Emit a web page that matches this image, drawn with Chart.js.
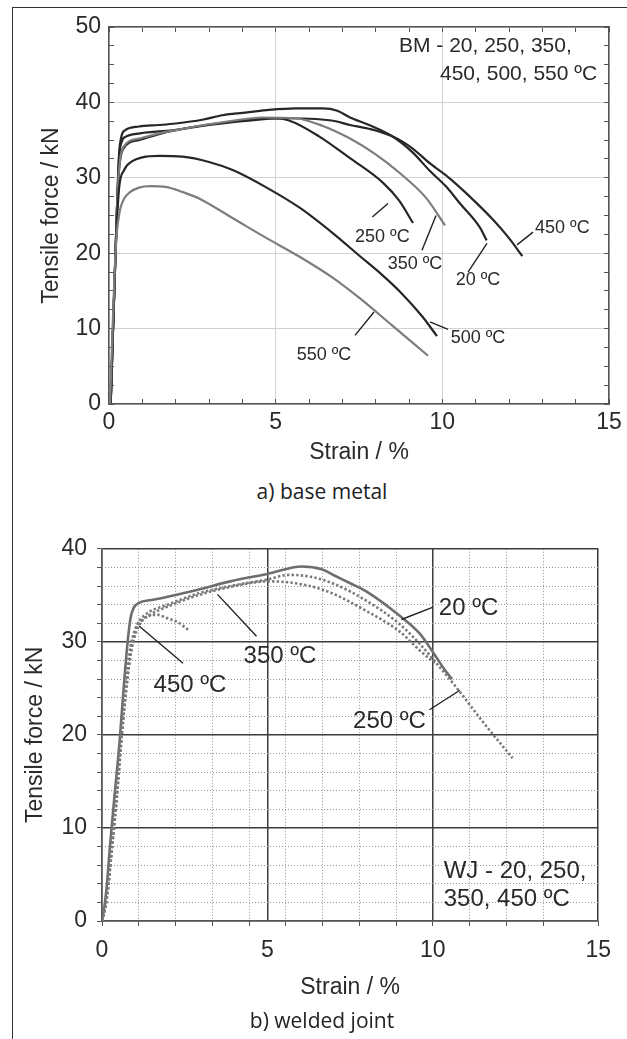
<!DOCTYPE html>
<html>
<head>
<meta charset="utf-8">
<script src="https://cdn.jsdelivr.net/npm/chart.js@4.4.1/dist/chart.umd.min.js"></script>
<style>
html, body { margin: 0; padding: 0; background: #fff; }
body { width: 627px; height: 1039px; position: relative; overflow: hidden; }
#frameL { position: absolute; left: 12px; top: 7px; width: 0; height: 1040px; border-left: 1.5px solid #333; }
#frameT { position: absolute; left: 12px; top: 7px; width: 620px; height: 0; border-top: 1.5px solid #333; }
canvas { position: absolute; left: 0; }
#c1 { top: 0; }
#c2 { top: 520px; }
.cap { position: absolute; left: 0; width: 644px; text-align: center; font-family: "Open Sans", sans-serif; font-size: 21px; line-height: 22px; color: #222; }
</style>
</head>
<body>
<div id="frameL"></div>
<div id="frameT"></div>
<canvas id="c1" width="627" height="470"></canvas>
<canvas id="c2" width="627" height="490"></canvas>
<div class="cap" style="top:480px">a) base metal</div>
<div class="cap" style="top:1009px">b) welded joint</div>
<script>
// ---------- (a) base metal ----------
const bmXTicks = [0, 5, 10, 15];
const bmYTicks = [0, 10, 20, 30, 40, 50];

const bmStrain20  = [0.05, 0.24, 0.30, 0.38, 0.48, 0.9, 1.5, 2.0, 2.8, 3.4, 4.2, 4.8, 5.6, 6.4, 6.85, 7.23, 7.8, 8.5, 9.1, 9.63, 10.1, 10.53, 11.13, 11.33];
const bmForce20   = [0, 26, 33, 35.6, 36.3, 36.8, 37.0, 37.2, 37.7, 38.3, 38.7, 39.0, 39.2, 39.2, 38.9, 38.0, 37.0, 35.5, 33.4, 30.9, 28.9, 26.6, 23.4, 21.7];

const bmStrain250 = [0.05, 0.24, 0.30, 0.42, 0.9, 1.5, 2.6, 3.6, 4.4, 4.9, 5.4, 6.3, 7.23, 8.23, 8.7, 9.12];
const bmForce250  = [0, 26, 31, 33.8, 35.0, 35.8, 36.8, 37.4, 37.8, 37.9, 37.6, 35.5, 32.6, 29.3, 27.0, 24.0];

const bmStrain350 = [0.05, 0.24, 0.30, 0.42, 0.9, 1.5, 2.6, 3.6, 4.6, 5.6, 6.4, 7.23, 8.0, 8.73, 9.5, 10.08];
const bmForce350  = [0, 26, 31, 34.0, 35.2, 35.9, 36.8, 37.5, 38.0, 37.9, 36.9, 35.2, 33.1, 30.6, 27.4, 23.7];

const bmStrain450 = [0.05, 0.24, 0.30, 0.40, 0.48, 0.93, 1.9, 3.0, 4.0, 5.2, 6.2, 6.8, 7.23, 7.8, 8.5, 9.1, 9.63, 10.2, 10.73, 11.53, 12.0, 12.4];
const bmForce450  = [0, 26, 32.5, 35.0, 35.4, 35.9, 36.3, 37.0, 37.5, 37.9, 37.8, 37.5, 37.0, 36.5, 35.5, 33.9, 31.9, 30.0, 27.9, 24.4, 22.0, 19.6];

const bmStrain500 = [0.05, 0.20, 0.30, 0.45, 0.7, 1.0, 1.5, 2.2, 3.0, 3.73, 4.73, 5.73, 6.73, 7.53, 8.2, 8.73, 9.4, 9.84];
const bmForce500  = [0, 20.5, 28.5, 31.0, 32.2, 32.7, 32.9, 32.8, 32.1, 31.0, 28.7, 26.0, 22.6, 19.6, 17.1, 14.9, 11.6, 9.0];

const bmStrain550 = [0.03, 0.20, 0.30, 0.45, 0.63, 0.9, 1.23, 1.7, 2.22, 2.73, 3.73, 4.73, 5.73, 6.73, 7.53, 8.5, 9.57];
const bmForce550  = [0, 20.5, 25.0, 27.2, 28.1, 28.7, 28.9, 28.8, 28.1, 27.2, 24.6, 22.0, 19.5, 16.7, 14.0, 10.4, 6.4];

const bmLabelTexts = ['250 ºC', '350 ºC', '20 ºC', '450 ºC', '500 ºC', '550 ºC'];
const bmLabelX     = [8.2, 9.18, 11.07, 13.6, 11.07, 6.45];
const bmLabelY     = [22.2, 18.5, 16.4, 23.4, 8.7, 6.5];
const bmLeaders = [
  [7.9, 24.8, 8.37, 26.6],
  [9.39, 20.4, 9.81, 25.0],
  [10.77, 17.5, 11.34, 21.3],
  [12.24, 21.1, 12.72, 22.8],
  [9.63, 10.9, 10.17, 9.9],
  [7.38, 9.1, 7.95, 12.2]
];
const bmNoteLines = ['BM - 20, 250, 350,', '450, 500, 550 ºC'];
const bmNoteX = [8.7, 9.93];
const bmNoteY = [47.4, 43.7];

// ---------- (b) welded joint ----------
const wjXTicks = [0, 5, 10, 15];
const wjYTicks = [0, 10, 20, 30, 40];

const wjStrain20  = [0, 0.09, 0.15, 0.24, 0.38, 0.53, 0.65, 0.77, 0.86, 0.95, 1.12, 1.5, 1.92, 2.9, 3.88, 5.0, 6.05, 6.64, 7.04, 7.5, 8.0, 9.0, 9.6, 10.04, 10.38, 10.58];
const wjForce20   = [0, 2, 4, 8, 13.5, 19.2, 24.8, 29.8, 32.5, 33.6, 34.2, 34.5, 34.8, 35.6, 36.5, 37.3, 38.1, 37.8, 37.1, 36.3, 35.4, 32.8, 30.9, 28.7, 26.9, 26.0];

const wjStrain250 = [0, 0.1, 0.18, 0.27, 0.42, 0.58, 0.72, 0.86, 1.0, 1.12, 1.42, 1.92, 2.9, 3.88, 5.0, 5.65, 6.3, 7.04, 8.0, 9.0, 9.6, 10.04, 10.78, 11.47, 12.41];
const wjForce250  = [0, 1.5, 3.5, 7, 13, 20, 25.5, 29.5, 31.3, 32.2, 33.2, 33.9, 35.2, 36.0, 36.7, 37.2, 37.0, 36.2, 34.4, 31.9, 29.8, 28.0, 24.8, 21.6, 17.5];

const wjStrain350 = [0, 0.1, 0.18, 0.28, 0.44, 0.6, 0.75, 0.9, 1.05, 1.2, 1.5, 1.92, 2.9, 3.88, 5.0, 5.85, 6.83, 8.0, 9.0, 9.6, 10.1];
const wjForce350  = [0, 1.5, 3.5, 7, 13, 20, 25.5, 29.3, 31.2, 32.2, 33.0, 33.7, 35.0, 35.9, 36.5, 36.3, 35.4, 33.3, 31.1, 29.1, 27.6];

const wjStrain450 = [0, 0.1, 0.18, 0.28, 0.44, 0.6, 0.75, 0.9, 1.03, 1.2, 1.42, 1.7, 1.92, 2.3, 2.6];
const wjForce450  = [0, 1.5, 3.5, 7, 13, 20, 25.5, 29.5, 31.5, 32.3, 32.8, 32.9, 32.6, 32.1, 31.3];

const wjLabelTexts = ['450 ºC', '350 ºC', '20 ºC', '250 ºC'];
const wjLabelX     = [2.66, 5.38, 11.08, 8.69];
const wjLabelY     = [25.3, 28.4, 33.6, 21.5];
const wjLeaders = [
  [1.12, 31.7, 2.45, 27.7],
  [3.49, 35.1, 4.67, 30.6],
  [9.05, 32.4, 9.99, 33.7],
  [9.9, 22.7, 10.82, 24.8]
];
const wjNoteLines = ['WJ - 20, 250,', '350, 450 ºC'];
const wjNoteX = [10.33, 10.33];
const wjNoteY = [5.3, 2.3];

// ---------- helpers ----------
const FONT = '"Liberation Sans", Arial, Helvetica, sans-serif';
Chart.defaults.font.family = FONT;
Chart.defaults.color = '#2a2a2a';

function pts(xs, ys) { return xs.map((v, i) => ({ x: v, y: ys[i] })); }

const annotPlugin = {
  id: 'annot',
  afterDatasetsDraw(chart, args, o) {
    const { ctx } = chart;
    const xs = chart.scales.x, ys = chart.scales.y;
    ctx.save();
    ctx.strokeStyle = '#222';
    ctx.lineWidth = 1.4;
    (o.leaders || []).forEach(l => {
      ctx.beginPath();
      ctx.moveTo(xs.getPixelForValue(l[0]), ys.getPixelForValue(l[1]));
      ctx.lineTo(xs.getPixelForValue(l[2]), ys.getPixelForValue(l[3]));
      ctx.stroke();
    });
    ctx.fillStyle = '#2a2a2a';
    ctx.textBaseline = 'middle';
    ctx.font = o.labelSize + 'px ' + FONT;
    ctx.textAlign = 'center';
    (o.texts || []).forEach((t, i) => {
      ctx.fillText(t, xs.getPixelForValue(o.tx[i]), ys.getPixelForValue(o.ty[i]));
    });
    ctx.font = o.noteSize + 'px ' + FONT;
    ctx.textAlign = 'left';
    (o.notes || []).forEach((t, i) => {
      ctx.fillText(t, xs.getPixelForValue(o.nx[i]), ys.getPixelForValue(o.ny[i]));
    });
    ctx.restore();
  }
};

function fixedTicks(arr) {
  return function (scale) { scale.ticks = arr.map(v => ({ value: v })); };
}
function fitH(h) { return s => { s.height = h; }; }
function fitW(w) { return s => { s.width = w; }; }

function lineDs(xs, ys, color, width, dash) {
  return {
    data: pts(xs, ys), showLine: true, borderColor: color, borderWidth: width,
    borderDash: dash || [], pointRadius: 0, cubicInterpolationMode: 'monotone', fill: false
  };
}

// ---------- chart (a) ----------
const frameCol = '#555';
new Chart(document.getElementById('c1'), {
  type: 'scatter',
  data: {
    datasets: [
      lineDs(bmStrain550, bmForce550, '#7d7d7d', 2.2),
      lineDs(bmStrain500, bmForce500, '#262626', 2.2),
      lineDs(bmStrain350, bmForce350, '#7d7d7d', 2.2),
      lineDs(bmStrain250, bmForce250, '#262626', 2.2),
      lineDs(bmStrain450, bmForce450, '#262626', 2.2),
      lineDs(bmStrain20, bmForce20, '#262626', 2.2)
    ]
  },
  options: {
    responsive: false, animation: false,
    layout: { padding: { left: 0, right: 18, top: 27, bottom: 4 } },
    plugins: {
      legend: { display: false }, tooltip: { enabled: false },
      annot: { leaders: bmLeaders, texts: bmLabelTexts, tx: bmLabelX, ty: bmLabelY, labelSize: 18,
               notes: bmNoteLines, nx: bmNoteX, ny: bmNoteY, noteSize: 21 }
    },
    scales: {
      x: {
        type: 'linear', position: 'bottom', min: 0, max: 15, weight: 1,
        afterBuildTicks: fixedTicks(bmXTicks), afterFit: fitH(62),
        ticks: { font: { size: 23 }, padding: 5, color: '#2a2a2a' },
        grid: { color: '#d2d2d2', lineWidth: 1, drawTicks: false },
        border: { display: true, color: frameCol, width: 1.5 },
        title: { display: true, text: 'Strain / %', font: { size: 23 }, color: '#2a2a2a', padding: { top: 0, bottom: 0 } }
      },
      xb: {
        type: 'linear', position: 'bottom', min: 0, max: 15, weight: 0, afterFit: fitH(0),
        ticks: { display: false, stepSize: 1 },
        grid: { drawOnChartArea: false, drawTicks: true, tickLength: -5, tickColor: frameCol, tickWidth: 1 },
        border: { display: false }
      },
      xt: {
        type: 'linear', position: 'top', min: 0, max: 15, weight: 0, afterFit: fitH(0),
        ticks: { display: false, stepSize: 1 },
        grid: { drawOnChartArea: false, drawTicks: true, tickLength: -5, tickColor: frameCol, tickWidth: 1 },
        border: { display: true, color: frameCol, width: 1.5 }
      },
      y: {
        type: 'linear', position: 'left', min: 0, max: 50, weight: 1,
        afterBuildTicks: fixedTicks(bmYTicks), afterFit: fitW(109),
        ticks: { font: { size: 23 }, padding: 8, color: '#2a2a2a' },
        grid: { color: '#d2d2d2', lineWidth: 1, drawTicks: false },
        border: { display: true, color: frameCol, width: 1.5 },
        title: { display: true, text: 'Tensile force / kN', font: { size: 23 }, color: '#2a2a2a', padding: { top: 38, bottom: 0 } }
      },
      yl: {
        type: 'linear', position: 'left', min: 0, max: 50, weight: 0, afterFit: fitW(0),
        ticks: { display: false, stepSize: 2.5 },
        grid: { drawOnChartArea: false, drawTicks: true, tickLength: -5, tickColor: frameCol, tickWidth: 1 },
        border: { display: false }
      },
      yr: {
        type: 'linear', position: 'right', min: 0, max: 50, weight: 0, afterFit: fitW(0),
        ticks: { display: false, stepSize: 2.5 },
        grid: { drawOnChartArea: false, drawTicks: true, tickLength: -5, tickColor: frameCol, tickWidth: 1 },
        border: { display: true, color: frameCol, width: 1.5 }
      }
    }
  },
  plugins: [annotPlugin]
});

// ---------- chart (b) ----------
const majorCol = '#3c3c3c';
const minorCol = '#959595';
new Chart(document.getElementById('c2'), {
  type: 'scatter',
  data: {
    datasets: [
      lineDs(wjStrain450, wjForce450, '#7a7a7a', 2.6, [2.4, 2.2]),
      lineDs(wjStrain350, wjForce350, '#7a7a7a', 2.6, [2.4, 2.2]),
      lineDs(wjStrain250, wjForce250, '#7a7a7a', 2.6, [2.4, 2.2]),
      lineDs(wjStrain20, wjForce20, '#6e6e6e', 2.6)
    ]
  },
  options: {
    responsive: false, animation: false,
    layout: { padding: { left: 0, right: 17.5, top: 24, bottom: 9 } },
    plugins: {
      legend: { display: false }, tooltip: { enabled: false },
      annot: { leaders: wjLeaders, texts: wjLabelTexts, tx: wjLabelX, ty: wjLabelY, labelSize: 24,
               notes: wjNoteLines, nx: wjNoteX, ny: wjNoteY, noteSize: 24 }
    },
    scales: {
      x: {
        type: 'linear', position: 'bottom', min: 0, max: 15, weight: 1,
        afterBuildTicks: fixedTicks(wjXTicks), afterFit: fitH(80),
        ticks: { font: { size: 23 }, padding: 16, color: '#2a2a2a' },
        grid: { color: majorCol, lineWidth: 1.5, drawTicks: false },
        border: { display: true, color: frameCol, width: 1.5 },
        title: { display: true, text: 'Strain / %', font: { size: 23 }, color: '#2a2a2a', padding: { top: 0, bottom: 0 } }
      },
      xg: {
        type: 'linear', position: 'bottom', min: 0, max: 13.5, weight: 0, afterFit: fitH(0),
        ticks: { display: false, stepSize: 1 },
        grid: {
          color: c => (c.tick && c.tick.value === 9) ? 'rgba(0,0,0,0)' : minorCol,
          lineWidth: 1, drawTicks: true, tickLength: 5, tickColor: frameCol, tickWidth: 1
        },
        border: { display: false, dash: [1, 2] }
      },
      y: {
        type: 'linear', position: 'left', min: 0, max: 40, weight: 1,
        afterBuildTicks: fixedTicks(wjYTicks), afterFit: fitW(102),
        ticks: { font: { size: 23 }, padding: 15, color: '#2a2a2a' },
        grid: { color: majorCol, lineWidth: 1.5, drawTicks: false },
        border: { display: true, color: frameCol, width: 1.5 },
        title: { display: true, text: 'Tensile force / kN', font: { size: 23 }, color: '#2a2a2a', padding: { top: 22, bottom: 0 } }
      },
      yg: {
        type: 'linear', position: 'left', min: 0, max: 40, weight: 0, afterFit: fitW(0),
        ticks: { display: false, stepSize: 2 },
        grid: {
          color: c => (c.tick && c.tick.value % 10 === 0) ? 'rgba(0,0,0,0)' : minorCol,
          lineWidth: 1, drawTicks: true, tickLength: 5, tickColor: frameCol, tickWidth: 1
        },
        border: { display: false, dash: [1, 2] }
      }
    }
  },
  plugins: [annotPlugin]
});
</script>
</body>
</html>
